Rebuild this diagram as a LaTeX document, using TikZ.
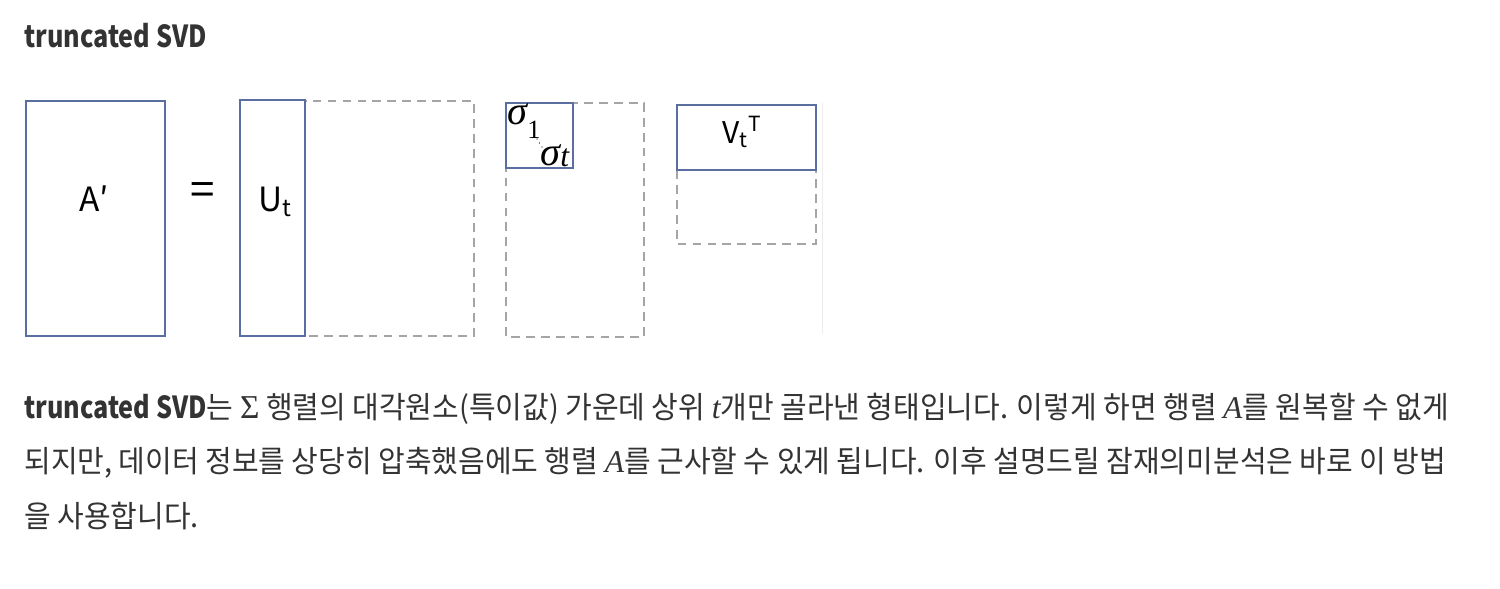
\documentclass[tikz,border=0pt]{standalone}
\usepackage{fontspec}
\setmainfont{Noto Sans CJK KR}[FakeStretch=0.955]
\newfontfamily\labfont{Noto Sans CJK KR}
\newfontfamily\headfont{Noto Sans CJK KR}[FakeStretch=0.83]
\newfontfamily\symfont{Liberation Serif}
% symbols of the formulas
\newcommand{\upsym}[1]{{\symfont\fontsize{19}{18}\selectfont #1}}
\newcommand{\itsym}[1]{{\symfont\itshape\fontsize{18}{18}\selectfont #1}}

\definecolor{boxblue}{HTML}{5A6FA0}
\definecolor{dashgray}{HTML}{A5A5A5}
\definecolor{textgray}{HTML}{333333}

\begin{document}
\begin{tikzpicture}[
  x=0.02cm, y=-0.02cm,
  solidbox/.style={draw=boxblue, line width=1.6pt},
  dashbox/.style={draw=dashgray, line width=1.1pt, dash pattern=on 5pt off 3.5pt},
  lab/.style={inner sep=0, text=black, font=\labfont\fontsize{19}{22}\selectfont},
  sig/.style={anchor=base west, inner sep=0, text=black, font=\symfont\itshape\fontsize{23}{24}\selectfont},
  body/.style={anchor=base west, inner sep=0, text=textgray, font=\fontsize{17.28}{22}\selectfont}
]
\useasboundingbox (0,0) rectangle (1500,588);

% title
\node[body] (title) at (24,48) {\headfont\bfseries truncated SVD};

% A' = U_t . Sigma_t . V_t^T
\draw[solidbox] (26,101) rectangle (165,336);
\node[lab, anchor=base] (aprime) at (94,211) {A′};
\node[lab, font=\labfont\fontsize{25}{28}\selectfont] (eq) at (203,194) {=};

\draw[dashbox] (305,101) rectangle (474,336);
\draw[solidbox] (240,100) rectangle (305,336);
\node[lab, anchor=base west] (ut) at (258,211) {U\textsubscript{t}};

\draw[dashbox] (506,103) rectangle (644,337);
\draw[solidbox] (506,103) rectangle (573,168);
\node[sig] (s1) at (507,124) {σ\raisebox{-8pt}{\upshape\fontsize{15}{15}\selectfont 1}};
\foreach \i in {0,1,2}
  \fill (537+2.5*\i,139+4*\i) circle (0.7);
\node[sig] (st) at (540,165) {σ\raisebox{-1pt}{\fontsize{18}{18}\selectfont t}};

\draw[dashbox] (677,170) rectangle (816,244);
\draw[solidbox] (677,105) rectangle (816,170);
\node[lab, anchor=base west, font=\labfont\fontsize{17}{20}\selectfont] (vt) at (722,143) {V\textsubscript{t}\textsuperscript{T}};

% faint crop edge
\draw[gray!15, line width=0.5pt] (822,103) -- (822,334);

% text below
\node[body] (line1) at (24,418) {{\headfont\bfseries truncated SVD}는 \upsym{Σ} 행렬의 대각원소(특이값) 가운데 상위 \itsym{t}개만 골라낸 형태입니다. 이렇게 하면 행렬 \itsym{A}를 원복할 수 없게};
\node[body] (line2) at (24,472) {되지만, 데이터 정보를 상당히 압축했음에도 행렬 \itsym{A}를 근사할 수 있게 됩니다. 이후 설명드릴 잠재의미분석은 바로 이 방법};
\node[body] (line3) at (24,527) {을 사용합니다.};
\end{tikzpicture}
\end{document}
